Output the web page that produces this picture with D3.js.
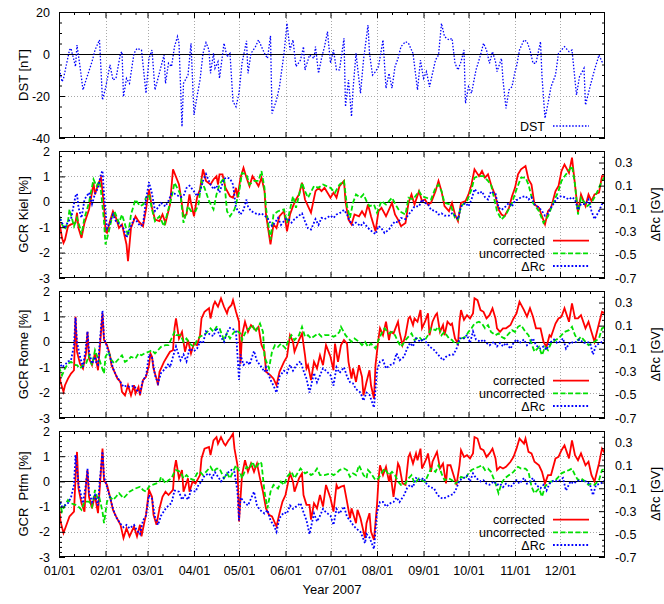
<!DOCTYPE html>
<html><head><meta charset="utf-8">
<script src="https://cdn.jsdelivr.net/npm/d3@7"></script>
<style>
body{margin:0;background:#fff}
svg{display:block}
text{font-family:"Liberation Sans",Arial,Helvetica,sans-serif;fill:#000}
</style>
</head><body>
<svg id="chart" width="664" height="604"></svg>
<script>
// ---------------- tick labels & texts ----------------
const monthLabels = ["01/01","02/01","03/01","04/01","05/01","06/01","07/01","08/01","09/01","10/01","11/01","12/01"];
const dstTicks = [-40,-20,0,20];
const gcrTicks = [-3,-2,-1,0,1,2];
const rcTicks = [-0.7,-0.5,-0.3,-0.1,0.1,0.3];
const rcTickLabels = ["-0.7","-0.5","-0.3","-0.1","0.1","0.3"];
const stationLabels = ["GCR Kiel [%]","GCR Rome [%]","GCR  Ptfm [%]"];
const legendLabels = ["corrected","uncorrected","\u0394Rc"];
const xTitle = "Year 2007";

// ---------------- data: [day of year (0 = 01/01), value] ----------------
const dst = [[0,-6],[2,-13.2],[3,-11.6],[7,1.9],[8,2.7],[11,-6],[12,4.3],[14,-6],[16,-17.1],[18,-12.4],[22,-3.7],[24,1.9],[27,6.7],[29,-21.9],[31,-16.3],[34,-5.2],[36,-12.4],[38,-11.6],[41,0.3],[42,1.1],[43,-20.3],[45,-11.6],[47,-14],[50,0.3],[52,2.7],[55,1.9],[58,-18.7],[60,-2.1],[62,1.9],[64,-17.1],[66,-11.6],[70,-0.5],[71,-14],[73,-4.4],[75,-6],[77,3.5],[79,8.3],[80,5.1],[82,-34.6],[83,-14],[86,-10],[88,5.1],[90,-29],[92,-20.3],[94,-12.4],[96,0.3],[98,5.4],[100,1.9],[101,-9.2],[103,0.3],[104,-6.8],[106,-3.7],[107,-11.6],[110,5.1],[112,-1.3],[114,0.3],[116,-22.7],[118,-25.1],[120,-18.7],[122,-4.4],[125,6.3],[126,-9.2],[128,0.3],[131,3.5],[133,6.7],[135,3.5],[137,0.3],[139,-2.1],[141,8.6],[142,-28.3],[145,-21.9],[147,-15.6],[150,0.3],[152,14.6],[154,1.9],[156,6.7],[158,-6],[161,-2.9],[163,3.5],[164,-7.6],[167,-0.5],[170,-2.1],[171,3.5],[173,-9.2],[175,-2.1],[177,3.5],[179,10.6],[181,-4.4],[183,1.9],[185,-7.6],[187,-7.6],[190,7.5],[191,-25.1],[193,-12.4],[195,-29.8],[196,-17.1],[198,0.3],[201,-18.7],[203,-2.9],[206,13.8],[207,0.3],[209,-10],[211,-8.4],[213,-6],[216,6.7],[218,-16.3],[220,-9.2],[222,-16.3],[224,-6],[226,-2.1],[228,3.5],[231,5.9],[233,5.1],[236,0.3],[239,-17.1],[241,-2.9],[243,-11.6],[245,-8.4],[247,-15.6],[251,-2.9],[253,-0.5],[255,14.6],[257,8.3],[260,6.7],[262,7.5],[264,-4.4],[266,-7.6],[268,-3.7],[270,1.9],[271,-23.5],[273,-15.6],[275,-18.7],[278,-7.6],[281,-0.5],[283,5.1],[285,1.9],[287,-4.4],[289,1.1],[291,-3.7],[292,-8.4],[295,-2.1],[296,-12.4],[298,-25.9],[300,-17.1],[302,-15.6],[304,-8.4],[305,-6],[307,1.9],[310,6.7],[312,5.9],[314,1.9],[316,-4.4],[318,-4.4],[321,5.9],[322,-10.8],[324,-30.6],[326,-23.5],[328,-15.6],[331,-10],[333,0.3],[335,1.9],[337,3.5],[340,1.1],[342,1.9],[345,-19.5],[347,-10.8],[350,-6.8],[351,-24.3],[354,-15.6],[357,-7.6],[360,-0.5],[362,-3.7],[364,-4.4]];

const kielCorr = [[0,-0.70],[2,-1.42],[3,-1.62],[4,-1.49],[6,-0.96],[8,-0.89],[11,-0.83],[12,-0.43],[13,-1.03],[15,-1.42],[17,-0.83],[20,-0.30],[22,0.36],[23,0.75],[24,0.29],[26,0.68],[28,0.95],[30,-0.17],[31,-1.16],[32,-1.22],[34,-0.76],[36,-0.37],[38,-0.63],[40,-1.03],[42,-0.89],[45,-1.68],[46,-2.34],[48,-1.03],[51,-0.57],[53,-0.76],[56,-0.96],[58,-0.30],[60,0.49],[62,-0.24],[64,-0.70],[67,-0.76],[69,-0.50],[71,-0.83],[74,-0.11],[76,1.28],[80,0.68],[82,-0.11],[83,-0.57],[85,-0.50],[87,0.29],[88,-0.04],[90,-0.57],[92,0.16],[94,0.49],[96,1.28],[98,0.82],[101,0.68],[103,0.88],[105,1.01],[106,0.68],[107,1.08],[109,1.08],[111,0.55],[114,0.22],[116,0.16],[118,0.55],[119,0.16],[121,0.95],[123,1.34],[125,0.95],[127,0.62],[129,1.01],[131,0.82],[133,0.62],[135,0.95],[137,0.42],[138,-0.50],[141,-1.68],[143,-0.89],[145,-1.03],[147,-0.57],[150,-0.37],[152,-1.16],[154,-0.50],[156,-0.17],[158,0.09],[160,0.29],[162,0.75],[164,0.09],[166,-0.17],[168,-0.43],[171,0.42],[173,0.55],[175,0.42],[177,0.55],[181,0.16],[183,0.36],[185,0.16],[187,0.62],[190,0.82],[191,0.03],[193,-0.70],[195,-0.89],[197,-0.50],[200,-0.57],[202,-0.37],[204,-0.57],[206,-0.11],[208,-0.57],[211,-1.16],[213,-0.37],[215,-0.24],[218,-0.57],[222,-0.04],[224,-0.50],[226,-0.70],[228,-0.96],[231,-0.83],[233,-0.04],[235,0.29],[237,-0.11],[240,0.42],[242,0.03],[244,0.09],[246,-0.11],[248,-0.04],[251,0.42],[253,0.82],[255,0.42],[257,-0.17],[260,-0.37],[262,-0.04],[264,-0.50],[266,-0.76],[268,-0.04],[271,0.03],[273,0.29],[275,0.68],[277,1.28],[280,1.01],[282,1.21],[284,0.95],[286,1.08],[288,0.68],[291,0.22],[293,-0.30],[295,-0.50],[297,-0.57],[300,-0.24],[302,0.22],[304,0.55],[306,1.08],[308,1.28],[311,1.41],[313,0.88],[315,0.68],[317,-0.11],[320,-0.24],[322,-0.57],[324,-0.89],[326,-0.37],[328,-0.24],[331,0.42],[333,0.62],[335,1.21],[337,1.47],[340,1.14],[342,1.74],[344,0.68],[346,-0.43],[348,0.29],[351,-0.17],[353,0.29],[355,0.03],[357,0.29],[360,0.36],[362,1.01],[364,1.01]];

const kielUncorr = [[0,-0.57],[2,-0.89],[4,-1.09],[6,-0.76],[7,-0.30],[10,-0.96],[12,-0.63],[14,-1.03],[15,-1.29],[17,-0.63],[20,-0.04],[21,0.29],[23,0.88],[25,0.62],[27,0.82],[28,0.42],[30,-0.76],[31,-1.68],[33,-1.22],[35,-0.70],[37,-0.37],[40,-0.83],[42,-0.50],[45,-1.09],[46,-1.36],[48,-0.50],[51,0.09],[54,-0.17],[56,-0.11],[58,0.16],[60,0.29],[62,-0.30],[64,-0.76],[67,-0.57],[70,-0.96],[72,-0.50],[75,0.16],[77,0.75],[81,0.29],[83,-0.83],[86,-0.17],[88,-0.37],[91,-0.37],[93,-0.11],[95,0.82],[97,0.55],[100,0.03],[103,-0.30],[105,0.29],[107,0.68],[110,0.95],[112,-0.37],[114,-0.57],[117,-0.30],[120,0.36],[122,1.14],[125,1.08],[127,0.68],[130,0.82],[133,0.82],[135,1.21],[137,0.55],[138,-0.24],[141,-1.49],[143,-0.50],[146,-0.37],[150,-0.30],[152,-0.83],[154,-0.30],[156,0.22],[158,-0.24],[162,0.75],[164,0.42],[166,0.16],[170,0.62],[173,0.55],[176,0.68],[181,0.55],[184,0.36],[187,0.68],[190,0.82],[192,-0.17],[194,-0.63],[196,-0.04],[198,0.29],[201,0.16],[203,0.29],[205,0.03],[207,-0.17],[210,-0.11],[212,-0.43],[215,0.03],[218,-0.11],[222,0.16],[225,-0.17],[227,-0.37],[231,-0.50],[233,0.16],[236,0.09],[240,0.42],[242,0.22],[245,0.16],[248,0.09],[251,0.55],[253,0.68],[255,0.42],[257,-0.04],[261,-0.11],[264,-0.63],[266,-0.70],[268,-0.17],[272,0.03],[275,0.49],[277,0.95],[280,1.01],[283,1.01],[286,0.82],[288,0.68],[292,-0.37],[295,-0.70],[298,-0.50],[302,-0.04],[305,0.49],[308,0.95],[311,0.95],[313,0.68],[316,-0.04],[320,-0.37],[323,-0.83],[326,-0.57],[330,0.03],[333,0.42],[335,0.82],[338,1.08],[342,1.41],[344,0.68],[346,-0.50],[348,0.16],[352,-0.17],[355,-0.04],[358,0.29],[362,0.82],[364,1.01]];

const kielRc = [[0,-0.16],[2,-0.22],[4,-0.27],[6,-0.21],[8,-0.19],[11,0.01],[12,0.03],[13,-0.09],[15,-0.18],[17,-0.02],[20,0.04],[22,-0.06],[24,0.03],[26,0.08],[28,0.20],[29,0.23],[30,0.03],[32,-0.27],[34,-0.22],[36,-0.15],[38,-0.21],[41,-0.24],[43,-0.27],[45,-0.35],[47,-0.28],[50,-0.19],[52,-0.21],[54,-0.25],[56,-0.24],[58,-0.02],[60,0.13],[62,0.03],[64,-0.12],[66,-0.09],[68,-0.05],[71,-0.08],[73,-0.03],[75,0.03],[77,0.03],[81,0.00],[83,0.01],[85,0.08],[87,0.10],[90,0.05],[92,0.01],[94,0.05],[96,0.14],[98,0.20],[101,0.11],[103,0.07],[105,0.10],[107,0.04],[110,0.16],[112,0.17],[114,0.16],[116,0.11],[118,-0.09],[121,-0.15],[123,-0.11],[125,-0.02],[126,-0.08],[128,-0.12],[131,-0.14],[133,-0.15],[135,-0.14],[137,-0.16],[139,-0.18],[142,-0.25],[144,-0.22],[146,-0.18],[148,-0.24],[151,-0.19],[153,-0.19],[155,-0.22],[157,-0.19],[160,-0.16],[162,-0.14],[164,-0.21],[166,-0.27],[168,-0.28],[171,-0.19],[173,-0.24],[175,-0.18],[177,-0.19],[181,-0.16],[183,-0.18],[185,-0.15],[187,-0.14],[190,-0.11],[192,-0.15],[194,-0.21],[196,-0.24],[198,-0.22],[201,-0.25],[203,-0.22],[205,-0.25],[207,-0.28],[211,-0.32],[213,-0.25],[215,-0.27],[217,-0.31],[220,-0.28],[222,-0.24],[224,-0.21],[226,-0.22],[228,-0.18],[231,-0.19],[233,-0.15],[235,-0.12],[237,-0.08],[240,-0.08],[242,-0.02],[244,-0.05],[246,-0.06],[248,-0.11],[251,-0.12],[253,-0.15],[255,-0.14],[257,-0.16],[260,-0.16],[262,-0.14],[264,-0.16],[266,-0.19],[268,-0.08],[271,-0.05],[273,-0.08],[275,-0.02],[277,0.07],[280,0.03],[282,0.05],[284,0.00],[286,-0.02],[288,0.05],[291,0.03],[293,-0.09],[295,-0.11],[297,-0.09],[300,-0.05],[302,-0.08],[304,-0.03],[306,-0.02],[308,0.00],[311,0.01],[313,-0.02],[315,0.00],[317,-0.06],[320,-0.09],[322,-0.12],[324,-0.16],[326,-0.14],[328,-0.09],[331,-0.03],[333,0.00],[335,0.01],[337,0.00],[340,-0.02],[342,0.00],[344,-0.02],[346,-0.11],[348,-0.06],[351,-0.06],[353,-0.02],[355,-0.12],[357,-0.19],[360,-0.12],[362,-0.06],[364,-0.05]];

const romeCorr = [[0,-1.12],[1,-1.58],[3,-1.97],[4,-1.71],[6,-1.45],[8,-1.25],[10,-1.12],[11,0.99],[12,-0.39],[14,-0.86],[16,-1.05],[18,-0.46],[19,0.39],[20,-0.66],[22,-0.92],[24,-0.46],[25,-0.79],[26,-1.12],[27,-0.39],[29,1.12],[30,0.07],[32,-0.13],[34,-0.53],[35,-0.92],[37,-1.18],[39,-1.45],[41,-1.58],[42,-1.97],[44,-2.11],[46,-1.71],[48,-2.11],[50,-1.71],[51,-2.04],[53,-1.78],[54,-2.11],[56,-1.51],[58,-1.38],[60,-0.92],[61,-0.46],[62,-0.59],[63,-1.05],[65,-1.45],[66,-1.71],[67,-1.18],[70,-0.79],[72,-0.59],[74,-0.39],[76,-0.33],[77,0.53],[78,0.92],[80,0.13],[82,0.39],[84,-0.39],[86,0.07],[88,-0.46],[90,-0.07],[92,-0.13],[94,0.26],[95,0.92],[97,1.18],[100,1.32],[101,0.92],[103,1.45],[104,1.58],[106,1.38],[108,1.71],[110,1.38],[112,1.12],[113,1.32],[115,1.45],[116,1.64],[118,1.18],[120,0.79],[121,-0.86],[122,0.26],[124,0.79],[126,0.39],[128,0.66],[131,0.46],[133,0.59],[135,-0.13],[137,-0.39],[138,-1.18],[141,-1.32],[143,-1.45],[145,-1.71],[147,-1.18],[150,-0.79],[152,-0.59],[154,0.26],[156,0.00],[157,-0.39],[160,0.07],[162,0.33],[164,-0.53],[165,-1.05],[166,-0.92],[168,-1.51],[170,-0.79],[172,-1.05],[174,-0.53],[176,-0.92],[178,-0.13],[181,-0.59],[183,-1.12],[184,-0.07],[186,-0.79],[188,-0.13],[190,0.07],[192,-0.07],[193,-0.79],[195,-1.45],[196,-1.05],[198,-1.58],[200,-0.92],[202,-1.38],[203,-2.11],[205,-1.58],[207,-1.12],[208,-1.71],[210,-2.24],[211,-0.92],[213,0.13],[214,0.53],[216,0.26],[218,0.79],[220,0.07],[221,0.39],[223,0.33],[226,0.79],[227,0.39],[229,-0.13],[231,0.26],[233,0.92],[234,0.99],[236,0.66],[237,0.92],[239,0.79],[241,1.25],[242,0.53],[244,0.79],[246,1.12],[247,0.26],[249,0.79],[251,1.05],[252,1.12],[254,0.39],[256,0.66],[257,0.26],[259,0.79],[261,0.66],[262,0.72],[264,0.13],[266,-0.07],[267,0.79],[268,1.25],[270,0.86],[272,1.05],[274,0.92],[276,1.12],[277,1.71],[279,1.64],[281,1.25],[283,1.18],[285,0.92],[287,1.05],[289,1.32],[291,0.92],[292,0.53],[294,0.39],[296,0.53],[298,0.53],[301,0.66],[303,0.92],[305,1.12],[307,1.58],[310,1.25],[312,0.99],[314,1.32],[316,0.99],[318,0.53],[321,0.53],[323,0.00],[325,-0.20],[327,0.26],[328,0.20],[331,0.72],[333,0.92],[335,0.99],[337,1.32],[340,0.79],[342,1.51],[344,0.92],[346,0.92],[348,1.05],[351,0.53],[353,0.79],[355,0.39],[357,0.00],[360,0.72],[362,1.18],[364,1.12]];

const romeUncorr = [[0,-0.99],[2,-1.32],[4,-1.05],[6,-0.86],[8,-0.79],[11,-0.92],[12,-0.92],[14,-1.05],[16,-0.92],[18,-0.86],[20,-0.53],[22,-0.92],[24,-0.33],[26,-0.66],[27,-0.72],[30,-1.25],[31,-0.59],[33,-0.39],[35,-0.72],[37,-0.86],[40,-0.66],[42,-0.53],[44,-0.79],[46,-0.72],[48,-0.59],[51,-0.66],[53,-0.46],[55,-0.53],[57,-0.46],[60,-0.39],[62,-0.33],[64,-0.46],[66,-0.33],[68,-0.20],[71,-0.13],[73,-0.13],[75,0.13],[77,0.39],[78,0.26],[81,0.26],[83,0.00],[85,0.13],[87,-0.07],[90,-0.20],[92,0.07],[94,0.20],[96,0.26],[98,0.33],[101,0.53],[103,0.39],[105,0.59],[107,0.53],[110,0.07],[112,0.33],[114,0.13],[116,0.33],[118,0.46],[121,0.33],[122,0.07],[125,0.46],[127,0.53],[129,0.66],[131,0.39],[134,0.72],[136,0.39],[137,-0.59],[140,-1.05],[142,-0.39],[144,-0.13],[146,-0.20],[148,-0.07],[151,-0.26],[153,0.07],[155,0.26],[157,0.07],[160,0.26],[162,0.59],[164,0.20],[166,0.26],[168,0.13],[171,0.26],[173,0.33],[175,0.20],[177,0.26],[181,0.26],[183,0.20],[185,0.26],[187,0.39],[188,0.59],[191,0.26],[193,0.13],[195,0.00],[197,0.13],[200,0.00],[202,-0.13],[204,0.00],[206,-0.20],[208,-0.07],[211,-0.26],[213,0.07],[215,0.33],[217,0.53],[220,0.33],[222,0.39],[224,0.26],[226,0.00],[228,-0.20],[231,0.07],[233,0.20],[235,0.33],[237,0.07],[240,0.20],[242,0.07],[244,0.07],[246,0.26],[248,0.53],[251,0.46],[253,0.59],[255,0.26],[257,0.39],[260,0.13],[262,0.07],[264,-0.07],[266,-0.07],[268,0.13],[271,0.20],[273,0.39],[275,0.53],[277,0.72],[280,0.79],[282,0.72],[284,0.53],[286,0.66],[288,0.39],[291,0.26],[293,0.33],[295,0.20],[297,0.13],[300,0.33],[302,0.46],[304,0.39],[306,0.59],[308,0.66],[311,0.39],[313,0.26],[315,-0.07],[317,-0.39],[320,-0.20],[322,-0.53],[324,-0.20],[326,-0.33],[328,-0.07],[331,0.07],[333,0.13],[335,0.26],[337,0.39],[340,0.46],[342,0.59],[344,0.26],[346,0.07],[348,0.20],[351,0.00],[353,-0.13],[355,-0.07],[357,0.00],[360,0.13],[362,0.53],[364,0.59]];

const romeRc = [[0,-0.21],[2,-0.26],[4,-0.24],[6,-0.21],[8,-0.20],[10,-0.07],[11,0.17],[12,-0.04],[14,-0.17],[16,-0.26],[18,-0.08],[19,0.05],[20,-0.12],[22,-0.23],[24,-0.17],[25,-0.23],[26,-0.24],[27,-0.07],[29,0.23],[30,-0.01],[32,-0.08],[34,-0.17],[36,-0.27],[38,-0.33],[41,-0.39],[43,-0.43],[45,-0.42],[47,-0.43],[50,-0.42],[52,-0.46],[54,-0.48],[56,-0.37],[58,-0.34],[60,-0.15],[62,-0.17],[64,-0.33],[66,-0.40],[68,-0.31],[71,-0.27],[73,-0.23],[74,-0.26],[76,-0.17],[78,-0.08],[81,-0.20],[83,-0.15],[85,-0.21],[87,-0.10],[90,-0.12],[92,-0.10],[94,-0.04],[96,-0.05],[98,0.05],[101,0.02],[103,0.01],[105,0.08],[107,0.02],[110,-0.04],[112,0.04],[114,0.08],[116,0.07],[118,0.05],[120,-0.37],[121,-0.15],[123,-0.24],[126,-0.21],[127,-0.24],[130,-0.12],[132,-0.21],[134,-0.24],[137,-0.30],[138,-0.26],[141,-0.37],[143,-0.42],[145,-0.48],[147,-0.34],[150,-0.29],[152,-0.31],[154,-0.24],[156,-0.29],[159,-0.23],[161,-0.21],[163,-0.29],[165,-0.36],[167,-0.48],[170,-0.31],[172,-0.39],[174,-0.33],[176,-0.27],[178,-0.29],[181,-0.33],[183,-0.42],[185,-0.26],[187,-0.31],[190,-0.26],[192,-0.34],[194,-0.39],[196,-0.40],[198,-0.45],[201,-0.48],[203,-0.55],[205,-0.48],[207,-0.50],[210,-0.61],[212,-0.29],[214,-0.21],[216,-0.20],[218,-0.27],[221,-0.24],[223,-0.23],[225,-0.14],[227,-0.20],[230,-0.17],[232,-0.10],[234,-0.05],[236,-0.08],[238,-0.01],[241,-0.04],[243,-0.01],[245,-0.05],[247,-0.08],[250,-0.11],[252,-0.14],[254,-0.17],[256,-0.20],[258,-0.17],[261,-0.15],[263,-0.15],[265,-0.10],[267,-0.01],[270,-0.01],[272,0.02],[274,-0.05],[276,0.05],[278,-0.02],[281,-0.04],[283,-0.02],[285,-0.05],[287,-0.07],[290,-0.04],[292,-0.08],[294,-0.05],[296,-0.08],[298,-0.05],[301,-0.10],[303,-0.05],[305,-0.02],[307,-0.05],[310,-0.02],[312,-0.07],[314,-0.05],[316,-0.01],[318,-0.07],[321,-0.10],[323,-0.08],[325,-0.11],[327,-0.05],[330,-0.02],[332,-0.05],[334,-0.04],[336,-0.01],[338,-0.10],[341,-0.04],[343,-0.05],[345,-0.04],[347,-0.02],[350,-0.05],[352,-0.04],[354,-0.05],[356,-0.15],[358,-0.07],[361,-0.05],[364,-0.02]];

const ptfmCorr = [[0,-0.93],[1,-1.59],[3,-2.05],[5,-1.72],[7,-1.39],[10,-1.20],[11,0.12],[12,1.17],[13,-0.28],[15,-0.87],[17,-1.20],[18,-0.14],[19,0.45],[20,-0.61],[22,-1.07],[24,-0.54],[25,-0.93],[26,-1.26],[27,-0.41],[29,1.30],[30,0.05],[32,-0.14],[34,-0.61],[36,-1.13],[38,-1.39],[41,-1.72],[43,-2.25],[45,-1.86],[47,-2.18],[50,-1.79],[52,-2.18],[54,-1.72],[55,-2.18],[57,-1.59],[58,-1.33],[60,-0.34],[62,-0.61],[63,-1.33],[65,-1.72],[67,-1.07],[69,-0.61],[71,-0.41],[73,-0.54],[76,-0.34],[77,0.51],[78,0.84],[80,0.12],[82,0.45],[83,-0.41],[86,0.12],[87,-0.41],[89,-0.01],[91,-0.08],[94,0.25],[95,0.91],[97,1.30],[100,1.37],[101,1.04],[103,1.63],[105,1.76],[106,1.50],[108,1.76],[110,1.50],[111,1.43],[113,1.63],[114,1.70],[116,1.89],[117,1.30],[119,0.64],[120,-1.59],[122,0.25],[124,0.84],[126,0.38],[128,0.71],[130,0.38],[132,0.71],[134,0.12],[136,-0.41],[138,-1.07],[140,-1.33],[142,-1.39],[145,-1.79],[147,-1.26],[149,-0.80],[151,-0.54],[154,0.32],[156,-0.01],[157,-0.41],[160,0.12],[162,0.32],[163,-0.54],[165,-0.93],[167,-0.93],[168,-1.52],[170,-0.87],[172,-1.07],[174,-0.54],[176,-1.00],[178,-0.14],[181,-0.67],[183,-1.20],[185,-0.14],[186,-0.28],[188,-0.21],[190,-0.17],[192,-0.80],[194,-1.46],[195,-1.07],[198,-1.66],[199,-1.13],[201,-1.46],[204,-2.25],[205,-1.66],[207,-1.26],[208,-1.99],[210,-2.32],[212,-0.93],[213,0.05],[214,0.64],[216,0.25],[218,0.58],[220,-0.01],[221,0.32],[223,-0.61],[226,0.71],[227,0.58],[229,-0.08],[231,-0.14],[233,0.97],[234,1.11],[236,0.71],[238,1.11],[239,0.84],[241,1.30],[242,0.51],[245,0.91],[246,1.11],[248,0.38],[249,0.78],[251,1.04],[252,1.17],[254,0.51],[256,0.71],[258,-0.08],[259,0.64],[261,0.64],[263,0.25],[265,-0.14],[267,0.64],[268,1.24],[270,0.97],[272,1.04],[274,0.91],[276,1.11],[277,1.76],[279,1.70],[281,1.30],[283,1.24],[285,0.97],[287,1.11],[289,1.30],[291,0.91],[292,0.45],[294,0.58],[296,0.51],[298,0.58],[301,0.78],[303,0.97],[305,1.30],[307,1.70],[310,1.50],[311,1.70],[313,1.17],[315,1.11],[317,0.78],[320,0.64],[322,0.38],[324,-0.08],[326,0.25],[328,0.25],[331,0.91],[333,0.97],[335,1.24],[337,1.43],[340,0.91],[342,1.63],[344,1.04],[346,0.84],[348,1.11],[351,0.64],[353,0.78],[355,0.25],[357,-0.01],[360,0.71],[362,1.30],[364,1.11]];

const ptfmUncorr = [[0,-0.74],[2,-1.20],[4,-0.93],[6,-0.74],[8,-0.87],[11,-0.93],[13,-1.00],[15,-1.13],[17,-0.80],[20,-0.80],[22,-1.00],[24,-0.34],[26,-0.74],[27,-0.67],[29,-1.20],[30,-1.66],[32,-0.80],[34,-0.61],[36,-0.74],[38,-0.61],[40,-0.47],[43,-0.67],[45,-0.54],[47,-0.41],[49,-0.34],[51,-0.28],[54,-0.21],[56,-0.34],[58,-0.41],[60,-0.21],[62,-0.14],[65,-0.08],[67,-0.01],[68,0.18],[71,-0.08],[73,0.05],[75,0.12],[77,0.38],[78,0.45],[81,0.38],[83,0.12],[85,0.25],[87,0.12],[90,0.05],[92,0.32],[94,0.38],[96,0.25],[98,0.38],[101,0.58],[103,0.38],[105,0.51],[107,0.51],[110,0.12],[112,0.32],[114,0.12],[116,0.38],[118,0.64],[121,0.32],[122,0.12],[125,0.58],[127,0.51],[129,0.78],[131,0.51],[134,0.78],[135,0.71],[137,-0.41],[139,-1.07],[141,-0.41],[143,-0.14],[146,-0.28],[148,-0.01],[150,-0.14],[152,0.18],[155,0.38],[157,0.12],[159,0.32],[161,0.51],[164,0.32],[166,0.38],[168,0.25],[170,0.32],[172,0.51],[174,0.25],[177,0.25],[181,0.32],[183,0.25],[185,0.32],[187,0.45],[190,0.51],[192,0.45],[194,0.18],[196,0.32],[198,0.25],[200,0.64],[203,0.25],[205,0.12],[206,0.45],[208,0.32],[211,0.05],[213,0.12],[215,0.32],[217,0.51],[220,0.25],[222,0.38],[224,0.25],[226,-0.01],[228,-0.14],[231,-0.08],[233,0.12],[235,0.25],[237,-0.08],[240,0.12],[242,0.05],[244,-0.01],[246,0.25],[248,0.51],[251,0.38],[253,0.64],[255,0.32],[257,0.05],[260,0.12],[262,0.05],[264,-0.08],[266,-0.01],[268,0.18],[271,0.12],[273,0.32],[275,0.45],[277,0.51],[280,0.58],[282,0.64],[284,0.45],[286,0.51],[288,0.38],[291,-0.08],[293,-0.47],[295,-0.08],[297,0.12],[300,0.25],[302,0.32],[304,0.45],[306,0.58],[308,0.51],[311,0.51],[313,0.38],[315,-0.21],[317,-0.47],[320,-0.28],[322,-0.61],[324,-0.21],[326,-0.08],[328,-0.01],[331,0.05],[333,0.18],[335,0.32],[337,0.38],[340,0.45],[342,0.51],[344,0.25],[346,0.05],[348,0.12],[351,-0.01],[353,-0.14],[355,-0.08],[357,-0.14],[360,0.05],[362,0.45],[364,0.51]];

const ptfmRc = [[0,-0.19],[2,-0.26],[4,-0.25],[6,-0.23],[8,-0.18],[10,-0.07],[11,0.19],[13,-0.06],[15,-0.18],[16,-0.23],[18,-0.06],[19,0.07],[20,-0.13],[22,-0.22],[24,-0.16],[26,-0.25],[27,-0.06],[29,0.22],[30,0.00],[32,-0.09],[34,-0.18],[36,-0.28],[38,-0.35],[41,-0.41],[43,-0.44],[45,-0.42],[47,-0.45],[50,-0.42],[52,-0.47],[54,-0.50],[56,-0.38],[58,-0.34],[60,-0.16],[62,-0.19],[64,-0.35],[66,-0.42],[68,-0.34],[71,-0.28],[73,-0.25],[75,-0.23],[77,-0.12],[80,-0.13],[82,-0.20],[84,-0.16],[86,-0.20],[88,-0.12],[91,-0.13],[93,-0.07],[95,-0.04],[97,0.01],[100,0.03],[102,-0.01],[104,0.04],[106,0.00],[108,-0.04],[111,0.01],[113,0.04],[115,0.06],[117,0.04],[119,-0.13],[120,-0.38],[121,-0.18],[124,-0.23],[126,-0.25],[128,-0.19],[130,-0.13],[132,-0.25],[134,-0.29],[137,-0.32],[139,-0.29],[141,-0.38],[143,-0.42],[145,-0.48],[147,-0.36],[150,-0.31],[152,-0.32],[154,-0.25],[156,-0.28],[159,-0.25],[161,-0.23],[163,-0.31],[165,-0.38],[167,-0.50],[170,-0.32],[172,-0.39],[174,-0.34],[176,-0.28],[178,-0.31],[181,-0.34],[183,-0.42],[185,-0.28],[187,-0.32],[190,-0.26],[192,-0.35],[194,-0.38],[196,-0.42],[198,-0.45],[201,-0.48],[204,-0.58],[205,-0.50],[207,-0.53],[210,-0.63],[212,-0.31],[214,-0.22],[216,-0.22],[218,-0.26],[221,-0.23],[223,-0.22],[225,-0.18],[227,-0.22],[230,-0.16],[232,-0.10],[234,-0.07],[236,-0.09],[238,-0.01],[241,-0.03],[243,-0.01],[245,-0.06],[247,-0.09],[250,-0.10],[252,-0.15],[254,-0.18],[256,-0.19],[258,-0.18],[261,-0.16],[263,-0.15],[265,-0.10],[267,-0.03],[270,-0.01],[272,0.01],[274,-0.04],[276,0.03],[278,-0.01],[281,-0.04],[283,-0.03],[285,-0.06],[287,-0.07],[290,-0.04],[292,-0.07],[294,-0.06],[296,-0.09],[298,-0.06],[301,-0.09],[303,-0.06],[305,-0.03],[307,-0.06],[310,-0.01],[312,-0.06],[314,-0.04],[316,-0.01],[318,-0.07],[321,-0.10],[323,-0.07],[325,-0.12],[327,-0.06],[330,-0.03],[332,-0.04],[334,-0.03],[336,-0.01],[338,-0.12],[341,-0.04],[343,-0.06],[345,-0.04],[347,-0.03],[350,-0.04],[352,-0.04],[354,-0.07],[356,-0.16],[358,-0.07],[361,-0.06],[364,-0.03]];

// ---------------- drawing ----------------
const svg = d3.select("#chart");
const L = 59, R = 605;
const t0 = new Date(2007, 0, 1);
const tEnd = new Date(2007, 11, 31);
const toDate = d => d3.timeDay.offset(t0, d);
const x = d3.scaleTime().domain([t0, tEnd]).range([L, R]);
const monthTicks = d3.timeMonth.range(t0, new Date(2008, 0, 1));
const minorX = [];
monthTicks.forEach(m => { minorX.push(new Date(2007, m.getMonth(), 11)); minorX.push(new Date(2007, m.getMonth(), 21)); });

const TICK_FS = "12.5px", LAB_FS = "13px", LEG_FS = "12.5px";
const styles = {
  corr:   {stroke: "#ff0000", width: 1.8, dash: null},
  uncorr: {stroke: "#00e000", width: 1.8, dash: "5,2.5"},
  rc:     {stroke: "#0000ff", width: 1.8, dash: "1.8,1.9"},
  dst:    {stroke: "#0000ff", width: 1.3, dash: "1.5,1.7"}
};

function styleAxis(g) {
  g.select(".domain").remove();
  g.selectAll(".tick line").attr("stroke", "#000").attr("stroke-width", 1);
  g.selectAll(".tick text").attr("font-size", TICK_FS).attr("fill", "#000")
    .attr("font-family", '"Liberation Sans", Arial, sans-serif');
  g.attr("font-family", null).attr("font-size", null);
}

function drawPanel(cfg, idx) {
  const top = cfg.top, h = cfg.h, bot = top + h;
  const y = d3.scaleLinear().domain(cfg.yDomain).range([bot, top]);
  const g = svg.append("g");
  const clipId = "clip" + idx;
  svg.append("defs").append("clipPath").attr("id", clipId)
    .append("rect").attr("x", L).attr("y", top).attr("width", R - L).attr("height", h);

  // grid
  const grid = g.append("g").attr("stroke", "#a8a8a8").attr("stroke-width", 1).attr("stroke-dasharray", "1,2");
  grid.selectAll("line.v").data(monthTicks.slice(1)).join("line")
    .attr("x1", d => Math.round(x(d)) + 0.5).attr("x2", d => Math.round(x(d)) + 0.5)
    .attr("y1", top).attr("y2", bot);
  grid.selectAll("line.h").data(cfg.yTicks.filter(v => v !== 0 && v !== cfg.yDomain[0] && v !== cfg.yDomain[1])).join("line")
    .attr("x1", L).attr("x2", R)
    .attr("y1", d => Math.round(y(d)) + 0.5).attr("y2", d => Math.round(y(d)) + 0.5);
  // zero line
  g.append("line").attr("x1", L).attr("x2", R)
    .attr("y1", Math.round(y(0)) + 0.5).attr("y2", Math.round(y(0)) + 0.5)
    .attr("stroke", "#000").attr("stroke-width", 1.2);

  // data
  const dataG = g.append("g").attr("clip-path", `url(#${clipId})`);
  cfg.series.forEach(s => {
    const sc = s.axis === "rc" ? cfg.rcScale : y;
    const line = d3.line().x(d => x(toDate(d[0]))).y(d => sc(d[1]));
    const st = styles[s.style];
    dataG.append("path").datum(s.data).attr("d", line).attr("fill", "none")
      .attr("stroke", st.stroke).attr("stroke-width", st.width)
      .attr("stroke-dasharray", st.dash);
  });

  // border
  g.append("rect").attr("x", L + 0.5).attr("y", top + 0.5).attr("width", R - L - 1).attr("height", h - 1)
    .attr("fill", "none").attr("stroke", "#000").attr("stroke-width", 1);

  // x axes (labels only on the bottom panel, mirrored ticks on top)
  const xb = g.append("g").attr("transform", `translate(0,${bot})`)
    .call(d3.axisBottom(x).tickValues(monthTicks).tickSize(-6).tickPadding(9)
      .tickFormat((d, i) => cfg.showX ? monthLabels[i] : ""));
  styleAxis(xb);
  const xbm = g.append("g").attr("transform", `translate(0,${bot})`)
    .call(d3.axisBottom(x).tickValues(minorX).tickSize(-3).tickFormat(""));
  styleAxis(xbm);
  const xt = g.append("g").attr("transform", `translate(0,${top})`)
    .call(d3.axisTop(x).tickValues(monthTicks).tickSize(-6).tickFormat(""));
  styleAxis(xt);
  const xtm = g.append("g").attr("transform", `translate(0,${top})`)
    .call(d3.axisTop(x).tickValues(minorX).tickSize(-3).tickFormat(""));
  styleAxis(xtm);

  // left axis
  const yl = g.append("g").attr("transform", `translate(${L},0)`)
    .call(d3.axisLeft(y).tickValues(cfg.yTicks).tickSize(-6).tickPadding(9).tickFormat(d => String(d)));
  styleAxis(yl);
  const ylm = g.append("g").attr("transform", `translate(${L},0)`)
    .call(d3.axisLeft(y).tickValues(cfg.yMinor).tickSize(-3).tickFormat(""));
  styleAxis(ylm);

  // right axis
  if (cfg.rcScale) {
    const yr = g.append("g").attr("transform", `translate(${R},0)`)
      .call(d3.axisRight(cfg.rcScale).tickValues(rcTicks).tickSize(-6).tickPadding(10)
        .tickFormat((d, i) => rcTickLabels[i]));
    styleAxis(yr);
    const rcMinor = d3.range(-0.7, 0.4001, 0.05).filter(v => !rcTicks.some(t => Math.abs(t - v) < 1e-6));
    const yrm = g.append("g").attr("transform", `translate(${R},0)`)
      .call(d3.axisRight(cfg.rcScale).tickValues(rcMinor).tickSize(-3).tickFormat(""));
    styleAxis(yrm);
    svg.append("text").attr("transform", `translate(655,${(top + bot) / 2}) rotate(-90)`)
      .attr("text-anchor", "middle").attr("dy", "0.35em").attr("font-size", LAB_FS).text("\u0394Rc [GV]");
  } else {
    const yr = g.append("g").attr("transform", `translate(${R},0)`)
      .call(d3.axisRight(y).tickValues(cfg.yTicks).tickSize(-6).tickFormat(""));
    styleAxis(yr);
    const yrm = g.append("g").attr("transform", `translate(${R},0)`)
      .call(d3.axisRight(y).tickValues(cfg.yMinor).tickSize(-3).tickFormat(""));
    styleAxis(yrm);
  }

  // y label
  svg.append("text").attr("transform", `translate(23,${(top + bot) / 2}) rotate(-90)`)
    .attr("text-anchor", "middle").attr("dy", "0.35em").attr("font-size", LAB_FS)
    .attr("xml:space", "preserve").style("white-space", "pre").text(cfg.label);

  // legend
  const rowH = 12.7;
  const n = cfg.series.length;
  cfg.series.forEach((s, i) => {
    const yy = bot - 12 - (n - 1 - i) * rowH;
    const st = styles[s.style];
    svg.append("text").attr("x", 545).attr("y", yy).attr("dy", "0.36em")
      .attr("text-anchor", "end").attr("font-size", LEG_FS).text(s.name);
    svg.append("line").attr("x1", 553).attr("x2", 589).attr("y1", yy).attr("y2", yy)
      .attr("stroke", st.stroke).attr("stroke-width", st.width).attr("stroke-dasharray", st.dash);
  });
}

const rcDomain = [-0.7, 0.4];
const gcrMinor = d3.range(-3, 2.0001, 0.2).map(v => +v.toFixed(2)).filter(v => !gcrTicks.includes(v));
const dstMinor = d3.range(-40, 20.001, 5).filter(v => !dstTicks.includes(v));

const panels = [
  {top: 12, h: 126, yDomain: [-40, 20], yTicks: dstTicks, yMinor: dstMinor, label: "DST [nT]", rcScale: null, showX: false,
   series: [{name: "DST", data: dst, style: "dst"}]},
  {top: 151, h: 127, yDomain: [-3, 2], yTicks: gcrTicks, yMinor: gcrMinor, label: stationLabels[0], showX: false,
   series: [{name: legendLabels[0], data: kielCorr, style: "corr"}, {name: legendLabels[1], data: kielUncorr, style: "uncorr"}, {name: legendLabels[2], data: kielRc, style: "rc", axis: "rc"}]},
  {top: 291, h: 127, yDomain: [-3, 2], yTicks: gcrTicks, yMinor: gcrMinor, label: stationLabels[1], showX: false,
   series: [{name: legendLabels[0], data: romeCorr, style: "corr"}, {name: legendLabels[1], data: romeUncorr, style: "uncorr"}, {name: legendLabels[2], data: romeRc, style: "rc", axis: "rc"}]},
  {top: 431, h: 126, yDomain: [-3, 2], yTicks: gcrTicks, yMinor: gcrMinor, label: stationLabels[2], showX: true,
   series: [{name: legendLabels[0], data: ptfmCorr, style: "corr"}, {name: legendLabels[1], data: ptfmUncorr, style: "uncorr"}, {name: legendLabels[2], data: ptfmRc, style: "rc", axis: "rc"}]}
];
panels.forEach((p, i) => {
  if (p.rcScale === undefined) p.rcScale = d3.scaleLinear().domain(rcDomain).range([p.top + p.h, p.top]);
  drawPanel(p, i);
});

svg.append("text").attr("x", (L + R) / 2).attr("y", 589).attr("dy", "0.35em")
  .attr("text-anchor", "middle").attr("font-size", LAB_FS).text(xTitle);
</script>
</body></html>
